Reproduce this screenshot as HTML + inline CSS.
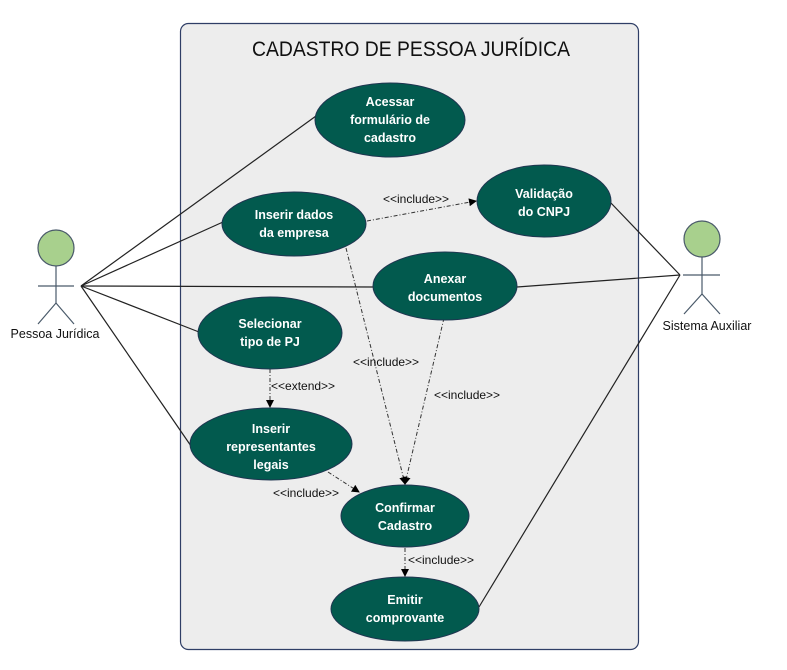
<!DOCTYPE html>
<html><head><meta charset="utf-8"><style>body{margin:0;background:#fff}svg{display:block}</style></head><body>
<svg width="787" height="670" viewBox="0 0 787 670" xmlns="http://www.w3.org/2000/svg" font-family="Liberation Sans, sans-serif">
<defs><marker id="a" markerWidth="8" markerHeight="8" refX="7" refY="4" orient="auto" markerUnits="userSpaceOnUse"><path d="M0,0L8,4L0,8z" fill="#000"/></marker></defs>
<rect x="180.5" y="23.5" width="458" height="626" rx="8" fill="#ededed" stroke="#2f3e66" stroke-width="1.2"/>
<text x="252" y="56" font-size="21" textLength="318" lengthAdjust="spacingAndGlyphs" fill="#111">CADASTRO DE PESSOA JURÍDICA</text>
<g stroke="#222" stroke-width="1.2">
<line x1="81" y1="286" x2="316" y2="116"/>
<line x1="81" y1="286" x2="223" y2="222"/>
<line x1="81" y1="286" x2="374" y2="287"/>
<line x1="81" y1="286" x2="199" y2="332"/>
<line x1="81" y1="286" x2="191" y2="446"/>
<line x1="680" y1="275" x2="610" y2="202"/>
<line x1="680" y1="275" x2="517" y2="287"/>
<line x1="680" y1="275" x2="479" y2="607"/>
</g>
<g stroke="#333" stroke-width="1" stroke-dasharray="4,2,1,2" fill="none" marker-end="url(#a)">
<line x1="367" y1="221" x2="476" y2="201"/>
<line x1="346" y1="248" x2="405" y2="484"/>
<line x1="444" y1="318" x2="405" y2="484"/>
<line x1="270" y1="369" x2="270" y2="407"/>
<line x1="328" y1="472" x2="359" y2="492"/>
<line x1="405" y1="548" x2="405" y2="576"/>
</g>
<g font-size="12" fill="#111">
<text x="383" y="203">&lt;&lt;include&gt;&gt;</text>
<text x="353" y="366">&lt;&lt;include&gt;&gt;</text>
<text x="434" y="399">&lt;&lt;include&gt;&gt;</text>
<text x="271" y="390">&lt;&lt;extend&gt;&gt;</text>
<text x="273" y="497">&lt;&lt;include&gt;&gt;</text>
<text x="408" y="564">&lt;&lt;include&gt;&gt;</text>
</g>
<g fill="#025a4e" stroke="#1f3550" stroke-width="1">
<ellipse cx="390" cy="120" rx="75" ry="37"/>
<ellipse cx="294" cy="224" rx="72" ry="32"/>
<ellipse cx="544" cy="201" rx="67" ry="36"/>
<ellipse cx="445" cy="286" rx="72" ry="34"/>
<ellipse cx="270" cy="333" rx="72" ry="36"/>
<ellipse cx="271" cy="444" rx="81" ry="36"/>
<ellipse cx="405" cy="516" rx="64" ry="31"/>
<ellipse cx="405" cy="609" rx="74" ry="32"/>
</g>
<g font-size="12.5" font-weight="bold" fill="#fff" text-anchor="middle">
<text x="390" y="106">Acessar</text><text x="390" y="124">formulário de</text><text x="390" y="142">cadastro</text>
<text x="294" y="219">Inserir dados</text><text x="294" y="237">da empresa</text>
<text x="544" y="198">Validação</text><text x="544" y="216">do CNPJ</text>
<text x="445" y="283">Anexar</text><text x="445" y="301">documentos</text>
<text x="270" y="328">Selecionar</text><text x="270" y="346">tipo de PJ</text>
<text x="271" y="433">Inserir</text><text x="271" y="451">representantes</text><text x="271" y="469">legais</text>
<text x="405" y="512">Confirmar</text><text x="405" y="530">Cadastro</text>
<text x="405" y="604">Emitir</text><text x="405" y="622">comprovante</text>
</g>
<g stroke="#4a5a6a" stroke-width="1.2" fill="none">
<line x1="56" y1="266" x2="56" y2="303"/><line x1="38" y1="286" x2="74" y2="286"/>
<polyline points="38,324 56,303 74,324"/>
<line x1="702" y1="257" x2="702" y2="294"/><line x1="683" y1="275" x2="720" y2="275"/>
<polyline points="684,314 702,294 720,314"/>
</g>
<circle cx="56" cy="248" r="18" fill="#a8d08d" stroke="#4a5a6a" stroke-width="1.2"/>
<circle cx="702" cy="239" r="18" fill="#a8d08d" stroke="#4a5a6a" stroke-width="1.2"/>
<g font-size="12.5" fill="#111" text-anchor="middle">
<text x="55" y="338">Pessoa Jurídica</text>
<text x="707" y="330">Sistema Auxiliar</text>
</g>
</svg>
</body></html>
